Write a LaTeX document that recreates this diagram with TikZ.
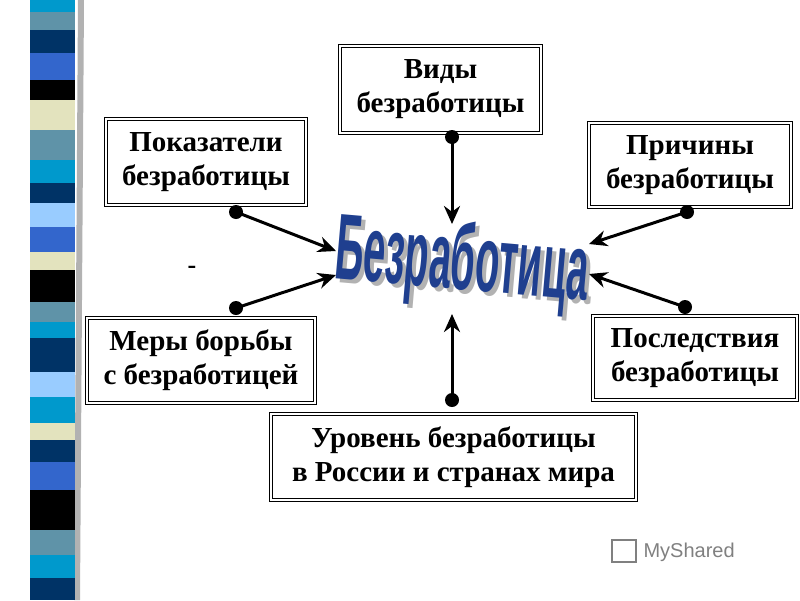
\documentclass[tikz,border=0pt]{standalone}
\usepackage{fontspec}
\setmainfont{Liberation Serif}
\newfontfamily\wordfont{Liberation Sans}
\usetikzlibrary{arrows.meta}
\definecolor{stcyan}{HTML}{0099CC}
\definecolor{ststeel}{HTML}{5F93A8}
\definecolor{stnavy}{HTML}{003366}
\definecolor{stroyal}{HTML}{3366CC}
\definecolor{stbeige}{HTML}{E3E3BE}
\definecolor{stlight}{HTML}{99CCFF}
\definecolor{wordblue}{HTML}{1F3F8F}
\newcommand{\mainword}{\scalebox{0.55}[1.3]{Безработица}}
\tikzset{
  topic/.style={draw=black, double=white, double distance=2.2pt, line width=0.8pt,
    align=center, font=\bfseries\fontsize{29}{34}\selectfont, inner sep=0pt},
  link/.style={line width=3pt, -{Stealth[length=18pt,width=16pt]}},
  dot/.style={circle, fill=black, inner sep=0pt, minimum size=14pt},
  bigword/.style={rotate=-5, font=\wordfont\bfseries\fontsize{72}{72}\selectfont}
}
\begin{document}
\begin{tikzpicture}[x=1pt, y=-1pt]
  \useasboundingbox (0,0) rectangle (800,600);
  % striped band on the left
  \fill[gray!60] (78,0) -- (84,0) -- (80,600) -- (74,600) -- cycle;
  \foreach \ya/\yb/\col in {0/12/stcyan, 12/30/ststeel, 30/53/stnavy, 53/80/stroyal,
      80/100/black, 100/130/stbeige, 130/160/ststeel, 160/183/stcyan, 183/203/stnavy,
      203/227/stlight, 227/252/stroyal, 252/270/stbeige, 270/302/black, 302/322/ststeel,
      322/338/stcyan, 338/372/stnavy, 372/397/stlight, 397/423/stcyan, 423/440/stbeige,
      440/462/stnavy, 462/490/stroyal, 490/530/black, 530/555/ststeel, 555/578/stcyan,
      578/600/stnavy}
    \fill[\col] (30,\ya) rectangle (75,\yb);

  % boxes
  \node[topic, minimum width=201pt, minimum height=87pt] (vidy) at (440.5,89.5) {Виды\\безработицы};
  \node[topic, minimum width=200pt, minimum height=86pt] (pokaz) at (206,162) {Показатели\\безработицы};
  \node[topic, minimum width=202pt, minimum height=84pt] (prich) at (690,165) {Причины\\безработицы};
  \node[topic, minimum width=228pt, minimum height=85pt] (mery) at (201,360.5) {Меры борьбы\\с безработицей};
  \node[topic, minimum width=204pt, minimum height=84pt] (posl) at (695,358) {Последствия\\безработицы};
  \node[topic, minimum width=365pt, minimum height=86pt] (urov) at (453.5,457) {Уровень безработицы\\в России и странах мира};

  % central word
  \node[bigword, text=gray!60] at (466,269) {\mainword};
  \node[bigword, text=wordblue] (word) at (462,265) {\mainword};
  \node[font=\bfseries\fontsize{26}{26}\selectfont] (dash) at (192,270) {-};

  % dots and arrow ends
  \node[dot] (dvidy) at (452,137) {};
  \node[dot] (dpokaz) at (236,212) {};
  \node[dot] (dprich) at (687,212) {};
  \node[dot] (dmery) at (236,308) {};
  \node[dot] (dposl) at (685,307) {};
  \node[dot] (durov) at (452,400) {};
  \coordinate (evidy) at (452,224);
  \coordinate (epokaz) at (336,251);
  \coordinate (eprich) at (589,244);
  \coordinate (emery) at (336,275);
  \coordinate (eposl) at (589,274);
  \coordinate (eurov) at (452,314);
  \foreach \n in {vidy,pokaz,prich,mery,posl,urov}
    \draw[link] (d\n.center) -- (e\n);

  % logo
  \node[text=gray, font=\wordfont\fontsize{20}{20}\selectfont, anchor=west] (logo) at (640,552) {MyShared};
  \draw[gray, line width=1.5pt] (612,540) rectangle (636,562);
\end{tikzpicture}
\end{document}
